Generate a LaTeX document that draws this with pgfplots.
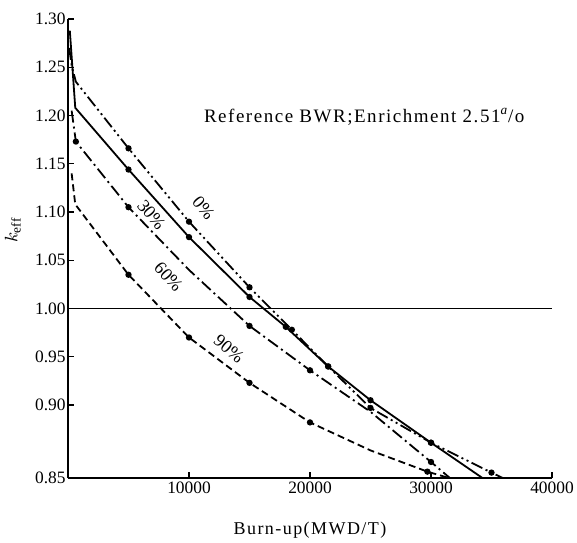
\documentclass[border=0pt]{standalone}
\usepackage{fontspec}
\setmainfont{Liberation Serif}
\newfontfamily\spaced[LetterSpace=8.0]{Liberation Serif}
\usepackage{pgfplots}
\pgfplotsset{compat=1.18}
\begin{document}
\begin{tikzpicture}
\begin{axis}[
  name=ax,
  scale only axis,
  width=242pt, height=229.5pt,
  xmin=0, xmax=40000,
  ymin=0.8244, ymax=1.30,
  axis lines=left,
  axis line style={-, line width=0.7pt},
  tick align=inside,
  major tick length=3pt,
  tick style={line width=0.7pt, black},
  scaled x ticks=false,
  xtick={10000,20000,30000,40000},
  xticklabels={10000,20000,30000,40000},
  ytick={0.8244,0.90,0.95,1.00,1.05,1.10,1.15,1.20,1.25,1.30},
  yticklabels={0.85,0.90,0.95,1.00,1.05,1.10,1.15,1.20,1.25,1.30},
  ticklabel style={font=\fontsize{8.7}{10}\selectfont},
  yticklabel style={inner sep=1pt},
  xticklabel style={inner sep=2pt},
  xlabel={\spaced Burn-up(MWD/T)},
  xlabel style={at={(axis description cs:0.5,-0.113)}, anchor=center, font=\fontsize{9}{10}\selectfont},
  ylabel={$k_{\mathrm{eff}}$},
  ylabel style={at={(axis description cs:-0.114,0.54)}, anchor=center, font=\fontsize{9.5}{10}\selectfont},
  every axis plot/.append style={line width=0.9pt, black},
]
% k = 1.00 reference line
\addplot[line width=0.7pt] coordinates {(0,1.00)(40000,1.00)};

% 0 %
\addplot[dash pattern=on 6pt off 1.8pt on 1pt off 1.8pt on 1pt off 1.8pt,
  mark=*, mark size=1.1pt, mark options={solid}, mark indices={4,5,6,7,8,9,10,11}]
  coordinates {(100,1.270)(300,1.252)(650,1.235)(5000,1.166)(10000,1.090)(15000,1.022)
  (18500,0.978)(21500,0.940)(25000,0.897)(30000,0.861)(35000,0.830)(36000,0.824)};

% 30 %
\addplot[solid, mark=*, mark size=1.1pt, mark indices={3,4,5,6,7,8,9}]
  coordinates {(150,1.288)(600,1.208)(5000,1.144)(10000,1.074)(15000,1.012)(18000,0.981)
  (21500,0.940)(25000,0.905)(30000,0.861)(34300,0.824)};

% 60 %
\addplot[dash pattern=on 6pt off 2pt on 1pt off 2pt,
  mark=*, mark size=1.1pt, mark options={solid}, mark indices={2,3,5,6,8}]
  coordinates {(300,1.205)(650,1.173)(5000,1.105)(10000,1.040)(15000,0.982)(20000,0.936)
  (25000,0.893)(30000,0.841)(31600,0.824)};

% 90 %
\addplot[dash pattern=on 3.5pt off 2pt,
  mark=*, mark size=1.1pt, mark options={solid}, mark indices={3,4,5,6,8}]
  coordinates {(300,1.140)(600,1.108)(5000,1.035)(10000,0.970)(15000,0.923)(20000,0.882)
  (25000,0.853)(29700,0.831)(31600,0.824)};

\node[rotate=-50, inner sep=0pt, font=\fontsize{9}{10}\selectfont] at (axis cs:11200,1.104) {0\%};
\node[rotate=-50, inner sep=0pt, font=\fontsize{9}{10}\selectfont] at (axis cs:6900,1.097) {30\%};
\node[rotate=-48, inner sep=0pt, font=\fontsize{9}{10}\selectfont] at (axis cs:8300,1.033) {60\%};
\node[rotate=-40, inner sep=0pt, font=\fontsize{9}{10}\selectfont] at (axis cs:13300,0.958) {90\%};

\node[anchor=west, font=\fontsize{9.5}{11}\selectfont] at (axis description cs:0.2665,0.7865)
  {\spaced Reference BWR;Enrichment 2.51\textsuperscript{\itshape a}/o};
\end{axis}
\pgfresetboundingbox
\path[use as bounding box] ([xshift=-34pt,yshift=-32pt]ax.south west) rectangle ([xshift=12.5pt,yshift=9.5pt]ax.north east);
\end{tikzpicture}
\end{document}
